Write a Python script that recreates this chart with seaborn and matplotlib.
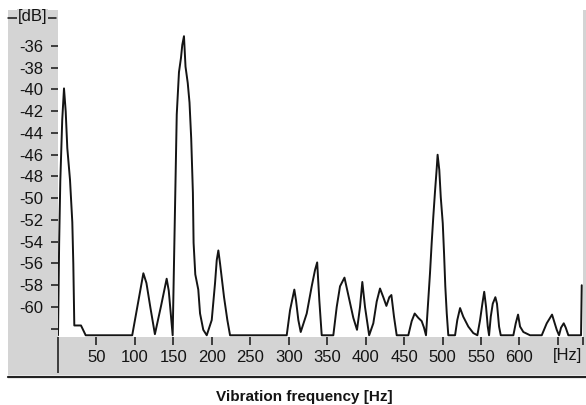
import matplotlib
matplotlib.use("Agg")
import matplotlib.pyplot as plt
import matplotlib.transforms as mtransforms
from matplotlib.patches import Rectangle
from matplotlib.lines import Line2D
import pandas as pd
import seaborn as sns

# Vibration spectrum: frequency (Hz) and level (dB)
freq_hz = [
    0, 0.5, 1.5, 3.0, 5.5, 7.8, 10.0, 12.1, 15.6, 18.6, 19.9, 21.2, 29.9, 36.0,
    96.5, 111.0, 115.0, 120.0, 126.0, 134.0, 141.3, 144.0, 149.1,
    153.0, 154.4, 157.3, 159.9, 161.6, 163.8, 165.8, 168.7, 171.0, 173.2, 175.4,
    176.3, 178.5, 182.4, 184.7, 188.9, 193.4,
    199.9, 204.2, 206.4, 208.5, 210.7, 215.9, 220.2, 223.7,
    297.4, 301.7, 305.2, 307.3, 309.5, 312.5, 315.6, 323.4, 329.9, 334.2, 337.0,
    339.8, 342.9, 358.0, 362.4, 366.7, 372.5, 377.5, 384.0, 388.8, 392.7, 395.7,
    399.2, 404.6, 410.0, 414.4, 418.7, 423.0, 427.0, 430.8, 433.5, 436.9, 440.4,
    455.5, 459.9, 463.8, 468.5, 472.9, 475.9, 478.5, 481.5, 483.7, 485.9, 488.0,
    490.2, 492.5, 493.6, 495.8, 497.7, 500.3, 502.0, 503.6, 505.5, 507.5,
    516.3, 519.2, 522.8, 527.0, 533.5, 540.0, 545.3, 548.8, 551.8, 554.2, 556.6,
    558.8, 560.5, 562.7, 565.3, 568.7, 570.8, 573.5, 575.7, 592.1, 595.2, 598.2,
    600.8, 605.1, 613.8, 629.0, 635.5, 642.4, 645.0, 648.5, 651.5, 654.1, 657.6,
    660.2, 663.6, 680.1, 681.0,
]
level_db = [
    -62.6, -60.0, -54.1, -48.4, -42.8, -39.9, -42.0, -45.4, -48.3, -52.2, -56.0, -61.7, -61.7, -62.6,
    -62.6, -56.9, -57.8, -60.0, -62.5, -59.9, -57.4, -58.5, -62.6,
    -47.7, -42.3, -38.4, -37.1, -35.9, -35.1, -37.9, -39.4, -41.2, -44.5, -49.5,
    -54.1, -57.0, -58.4, -60.6, -62.1, -62.6,
    -61.2, -57.8, -55.7, -54.8, -56.0, -59.1, -61.2, -62.6,
    -62.6, -60.3, -59.1, -58.4, -59.4, -61.2, -62.3, -60.6, -58.1, -56.6, -55.9,
    -59.4, -62.6, -62.6, -60.0, -58.1, -57.3, -58.9, -61.0, -62.1, -60.0, -57.7,
    -60.0, -62.6, -61.5, -59.5, -58.3, -59.1, -59.9, -59.1, -58.9, -60.9, -62.6,
    -62.6, -61.3, -60.6, -61.0, -61.3, -61.9, -62.6, -59.4, -56.9, -54.1, -51.7,
    -49.4, -47.2, -46.0, -47.4, -49.9, -52.3, -55.1, -58.1, -60.6, -62.6,
    -62.6, -61.2, -60.1, -60.9, -61.8, -62.4, -62.6, -61.2, -59.7, -58.6, -60.0,
    -61.8, -62.6, -60.9, -59.7, -59.1, -59.7, -61.8, -62.6, -62.6, -61.5, -60.7,
    -61.8, -62.3, -62.6, -62.6, -61.5, -60.7, -61.3, -62.1, -62.6, -61.9, -61.5,
    -61.9, -62.6, -62.6, -58.0,
]

y_ticks = [-36, -38, -40, -42, -44, -46, -48, -50, -52, -54, -56, -58, -60, -62]
y_tick_labels = ["-36", "-38", "-40", "-42", "-44", "-46", "-48", "-50",
                 "-52", "-54", "-56", "-58", "-60", ""]
x_ticks = [50, 100, 150, 200, 250, 300, 350, 400, 450, 500, 550, 600, 650, 682]
x_tick_labels = ["50", "100", "150", "200", "250", "300", "350", "400",
                 "450", "500", "550", "600", "", ""]

sns.set_theme(style="white")
plt.rcParams["font.family"] = ["Liberation Sans", "DejaVu Sans"]

W, H = 586, 405
PANEL = "#d4d4d4"
INK = "#141414"
TICK_FS = 12


def fx(px):
    return px / W


def fy(py):
    return 1 - py / H


fig = plt.figure(figsize=(W / 100, H / 100), dpi=100)
fig.patch.set_facecolor("white")

# grey window frame behind the plot area
fig.add_artist(Rectangle((fx(8), fy(375)), fx(586) - fx(8), fy(10) - fy(375),
                         transform=fig.transFigure, facecolor=PANEL,
                         edgecolor="none", zorder=-5))
fig.add_artist(Line2D([fx(8), 1.0], [fy(376.5), fy(376.5)],
                      transform=fig.transFigure, color="#222222", lw=1.6))

ax = fig.add_axes([fx(58), fy(337), fx(582.5) - fx(58), fy(10) - fy(337)])
ax.set_facecolor("white")

df = pd.DataFrame({"freq": freq_hz, "level": level_db})
sns.lineplot(data=df, x="freq", y="level", ax=ax, color=INK, lw=1.4,
             estimator=None, sort=False)

ax.set_xlim(0, 682)
ax.set_ylim(-62.76, -32.69)
for s in ax.spines.values():
    s.set_visible(False)

ax.set_yticks(y_ticks)
ax.set_yticklabels(y_tick_labels)
ax.set_xticks(x_ticks)
ax.set_xticklabels(x_tick_labels)
ax.set_xticks([0], minor=True)
ax.tick_params(axis="y", left=True, direction="out", length=5, width=1.1,
               pad=5.5, labelsize=TICK_FS, colors=INK)
ax.tick_params(axis="x", which="major", bottom=True, direction="out", length=5.8,
               width=1.1, pad=3.4, labelsize=TICK_FS, colors=INK)
ax.tick_params(axis="x", which="minor", bottom=True, direction="out", length=26,
               width=1.1, colors=INK)
ax.set_xlabel("")
ax.set_ylabel("")

# unit labels
trans = mtransforms.blended_transform_factory(ax.transData, ax.transAxes)
ax.text(663, -0.058, "[Hz]", transform=trans, ha="center", va="center",
        fontsize=TICK_FS, color=INK)
fig.add_artist(Line2D([fx(8), fx(56)], [fy(18), fy(18)],
                      transform=fig.transFigure, color=INK, lw=1.1))
fig.text(fx(32.5), fy(16.5), "[dB]", ha="center", va="center", fontsize=TICK_FS,
         color=INK, bbox=dict(facecolor=PANEL, edgecolor="none", pad=0.3))

fig.text(fx(304), fy(397), "Vibration frequency [Hz]", ha="center", va="center",
         fontsize=11, fontweight="bold", color=INK)

fig.savefig("out.png", dpi=100, facecolor="white")
